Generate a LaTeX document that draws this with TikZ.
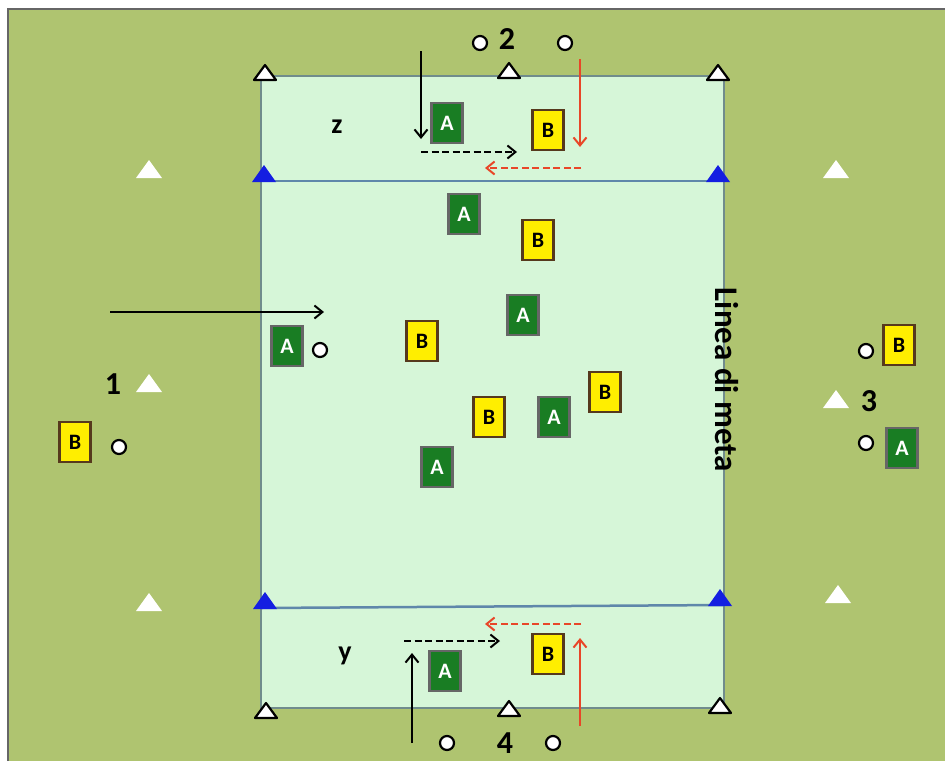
\documentclass[tikz,border=0pt]{standalone}
\usepackage{fontspec}
\setmainfont{Carlito}
\usetikzlibrary{arrows.meta}
\definecolor{grass}{RGB}{175,196,112}
\definecolor{pitch}{RGB}{214,246,216}
\definecolor{pitchline}{RGB}{112,140,140}
\definecolor{goalline}{RGB}{95,135,170}
\definecolor{goalcone}{RGB}{20,30,225}
\definecolor{teama}{RGB}{25,125,35}
\definecolor{teamb}{RGB}{255,238,0}
\definecolor{runred}{RGB}{232,70,40}

\begin{document}
\begin{tikzpicture}[x=1pt,y=-1pt,
  pa/.style={draw=black!60,fill=teama,line width=2.2pt,minimum width=31pt,minimum height=40pt,inner sep=0pt,text=white,font=\fontsize{22}{22}\selectfont\bfseries},
  pb/.style={pa,draw=black!55!brown,fill=teamb,text=black},
  ball/.style={circle,draw,line width=2.2pt,fill=white,minimum size=14pt,inner sep=0pt},
  num/.style={font=\fontsize{32}{32}\selectfont\bfseries},
  zone/.style={font=\fontsize{28}{28}\selectfont\bfseries},
  cone/.style={draw=black,line width=2.2pt,fill=white,line join=round},
  run/.style={-{Straight Barb[length=8pt,width=13pt,line width=2pt]},line width=2.2pt},
  pass/.style={run,dash pattern=on 7pt off 3.5pt}]
% background
\useasboundingbox (0,0) rectangle (945,761);
\fill[grass] (8,9) rectangle (945,761);
\draw[black!60,line width=2pt] (8,761) -- (8,9) -- (945,9);
% pitch and goal lines
\draw[fill=pitch,draw=pitchline,line width=2pt] (261,76) rectangle (724,708);
\draw[goalline,line width=2.5pt] (261,181) -- (724,181);
\draw[goalline,line width=2.5pt] (261,608) -- (724,605);
\foreach \x/\y in {264/182,718/182,265/609,720/606}
  \fill[goalcone] (\x-12,\y) -- (\x+12,\y) -- (\x,\y-17) -- cycle;
% corner cones
\foreach \x/\y in {265/80,509/78,718/80,266/718,509/716,720/713}
  \draw[cone] (\x-11,\y) -- (\x+11,\y) -- (\x,\y-15) -- cycle;
\foreach \x/\y in {149/178,149/392,149/611,836/178,836/408,838/603}
  \fill[white] (\x-13,\y) -- (\x+13,\y) -- (\x,\y-18) -- cycle;

% labels
\node[num] (n2) at (507,39) {2};
\node[num] (n4) at (505,743) {4};
\node[num] (n1) at (113,384) {1};
\node[num] (n3) at (869,401) {3};
\node[zone] (z) at (337,127) {z};
\node[zone] (y) at (345,656) {y};
\node[font=\fontsize{33}{33}\selectfont\bfseries,rotate=-90] (meta) at (727,380) {Linea di meta};

% balls
\node[ball] (b2l) at (480,43) {};
\node[ball] (b2r) at (565,43) {};
\node[ball] (b4l) at (447,743) {};
\node[ball] (b4r) at (553,743) {};
\node[ball] (b1f) at (320,350) {};
\node[ball] (b1) at (119,447) {};
\node[ball] (b3t) at (866,351) {};
\node[ball] (b3b) at (866,443) {};

% players
\node[pa] (aTop) at (447,123) {A};
\node[pb] (bTop) at (548,130) {B};
\node[pa] (aBot) at (445,671) {A};
\node[pb] (bBot) at (548,654) {B};
\node[pa] (aLeft) at (287,346) {A};
\node[pb] (bLeft) at (75,442) {B};
\node[pb] (bRight) at (899,345) {B};
\node[pa] (aRight) at (902,448) {A};
\node[pa] (a1) at (464,214) {A};
\node[pb] (b1p) at (538,240) {B};
\node[pa] (a2) at (523,315) {A};
\node[pb] (b2p) at (422,341) {B};
\node[pb] (b3p) at (605,392) {B};
\node[pb] (b4p) at (489,417) {B};
\node[pa] (a3) at (554,417) {A};
\node[pa] (a4) at (437,467) {A};

% runs
\coordinate (zs) at (421,51);  \coordinate (ze) at (421,139);
\coordinate (zrs) at (580,59); \coordinate (zre) at (580,147);
\coordinate (zps) at (421,152); \coordinate (zpe) at (517,152);
\coordinate (zqs) at (581,168); \coordinate (zqe) at (485,168);
\coordinate (ys) at (412,743); \coordinate (ye) at (412,653);
\coordinate (yrs) at (580,726); \coordinate (yre) at (580,638);
\coordinate (yps) at (404,641); \coordinate (ype) at (500,641);
\coordinate (yqs) at (581,624); \coordinate (yqe) at (485,624);
\coordinate (ls) at (110,312); \coordinate (le) at (324,312);
\draw[run] (zs) -- (ze);
\draw[run,runred] (zrs) -- (zre);
\draw[pass] (zps) -- (zpe);
\draw[pass,runred] (zqs) -- (zqe);
\draw[run] (ys) -- (ye);
\draw[run,runred] (yrs) -- (yre);
\draw[pass] (yps) -- (ype);
\draw[pass,runred] (yqs) -- (yqe);
\draw[run] (ls) -- (le);
\end{tikzpicture}
\end{document}
